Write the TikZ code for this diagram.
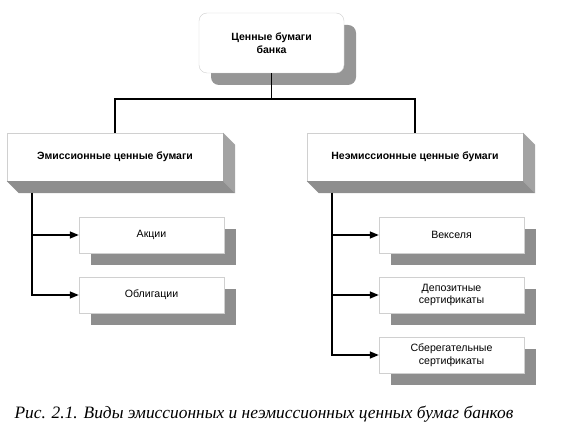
\documentclass[tikz,border=0pt]{standalone}
\usepackage{fontspec}
\setmainfont{Liberation Serif}
\newfontfamily\arial{Liberation Sans}
\usetikzlibrary{shadows,arrows.meta}
\definecolor{shgray}{HTML}{969696}
\definecolor{facer}{HTML}{A3A3A3}
\definecolor{faceb}{HTML}{8E8E8E}
\definecolor{edge}{HTML}{D0D0D0}
\tikzset{
  x=1pt, y=-1pt,
  rootbox/.style={draw=edge, fill=white, rounded corners=8pt, minimum width=145pt, minimum height=60pt,
    align=center, font=\arial\bfseries\fontsize{10.5}{13}\selectfont,
    drop shadow={shadow xshift=12pt, shadow yshift=-12pt, fill=shgray, opacity=1}},
  catbox/.style={draw=edge, fill=white, minimum width=216pt, minimum height=48pt,
    align=center, font=\arial\bfseries\fontsize{10.5}{13}\selectfont},
  leafbox/.style={draw=edge, fill=white, minimum width=145pt, minimum height=36pt,
    align=center, font=\arial\fontsize{10.6}{12.5}\selectfont,
    drop shadow={shadow xshift=12pt, shadow yshift=-12pt, fill=faceb, opacity=1}},
  conn/.style={line width=1.4pt, black},
  arr/.style={conn, -{Triangle[length=9pt,width=7pt]}}
}
\begin{document}
\begin{tikzpicture}
\useasboundingbox (0,0) rectangle (567,438);
% root
\node[rootbox] (root) at (271.5,43) {Ценные бумаги\\банка};
% categories
\node[catbox] (em) at (115,157) {Эмиссионные ценные бумаги};
\node[catbox] (nem) at (415,157) {Неэмиссионные ценные бумаги};
\foreach \n in {em,nem}{
  \fill[facer] (\n.north east) -- ++(12,12) -- ([shift={(12,12)}]\n.south east) -- (\n.south east) -- cycle;
  \fill[faceb] (\n.south west) -- (\n.south east) -- ([shift={(12,12)}]\n.south east) -- ([shift={(12,12)}]\n.south west) -- cycle;
}
% leaves
\node[leafbox] (akc) at (151.5,235) {Акции};
\node[leafbox] (obl) at (151.5,295) {Облигации};
\node[leafbox] (vek) at (451.5,235) {Векселя};
\node[leafbox] (dep) at (451.5,295) {Депозитные\\сертификаты};
\node[leafbox] (sbe) at (451.5,355) {Сберегательные\\сертификаты};
% connectors
\coordinate (hb) at (271.5,99);
\draw[conn] (root.south) -- (hb);
\draw[conn] (em.north) |- (hb) -| (nem.north);
\coordinate (l0) at (32,193);
\coordinate (r0) at (332,193);
\draw[arr] (l0) |- (akc.west);
\draw[arr] (l0) |- (obl.west);
\draw[arr] (r0) |- (vek.west);
\draw[arr] (r0) |- (dep.west);
\draw[arr] (r0) |- (sbe.west);
% caption
\node[font=\itshape\fontsize{17.4}{20}\selectfont, anchor=west] (cap) at (11,414) {Рис. 2.1. Виды эмиссионных и неэмиссионных ценных бумаг банков};
\end{tikzpicture}
\end{document}
